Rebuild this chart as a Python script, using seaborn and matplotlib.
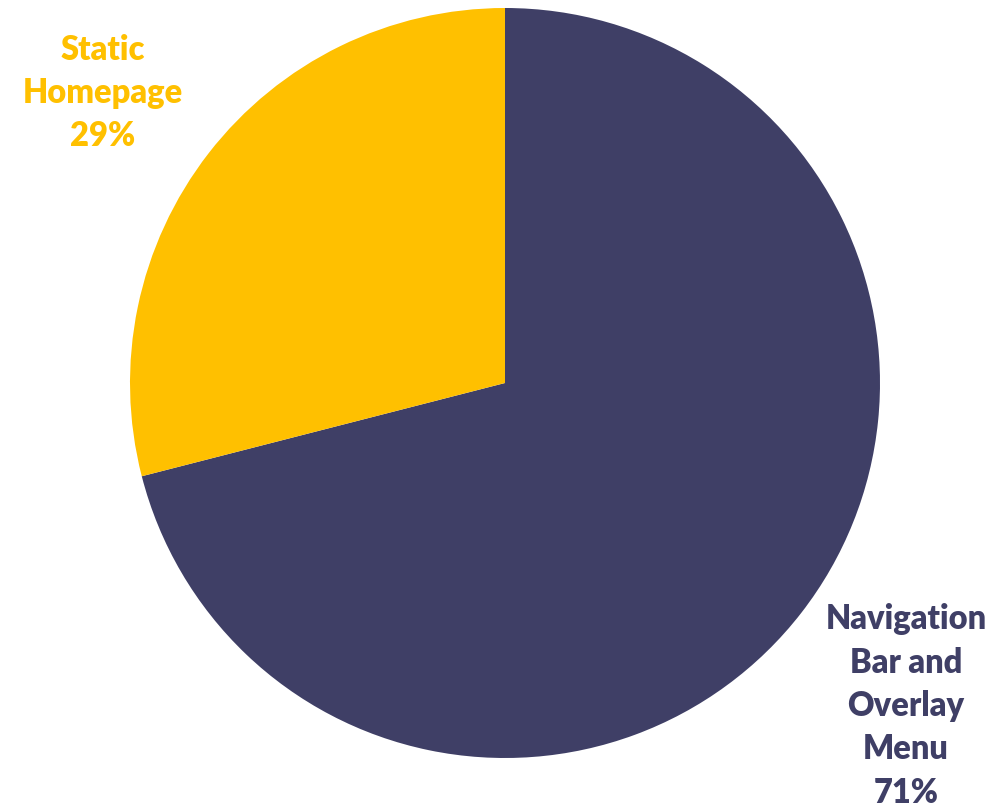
import matplotlib
matplotlib.use("Agg")
import matplotlib.pyplot as plt
import seaborn as sns

categories = ["Navigation Bar and Overlay Menu", "Static Homepage"]
label_lines = ["Navigation\nBar and\nOverlay\nMenu", "Static\nHomepage"]
values = [71, 29]
colors = ["#3F3F66", "#FFC000"]

sns.set_theme(style="white")
plt.rcParams['font.family'] = ['Lato', 'DejaVu Sans']

W, H = 1004, 805
fig = plt.figure(figsize=(W / 100, H / 100), dpi=100)
ax = fig.add_axes([0, 0, 1, 1])

cx, cy, r = 505, H - 383, 375
ax.pie(values, colors=colors, startangle=90, counterclock=False,
       center=(cx, cy), radius=r, frame=True,
       wedgeprops=dict(linewidth=0))
ax.set_xlim(0, W)
ax.set_ylim(0, H)
ax.set_aspect('equal')
ax.axis('off')

label_pos = [(906, H - 706), (103, H - 93)]
for txt, v, c, (x, y) in zip(label_lines, values, colors, label_pos):
    ax.text(x, y, f"{txt}\n{v}%", ha='center', va='center', color=c,
            fontsize=23.5, fontweight='heavy', linespacing=1.44)

fig.savefig("out.png", dpi=100)
